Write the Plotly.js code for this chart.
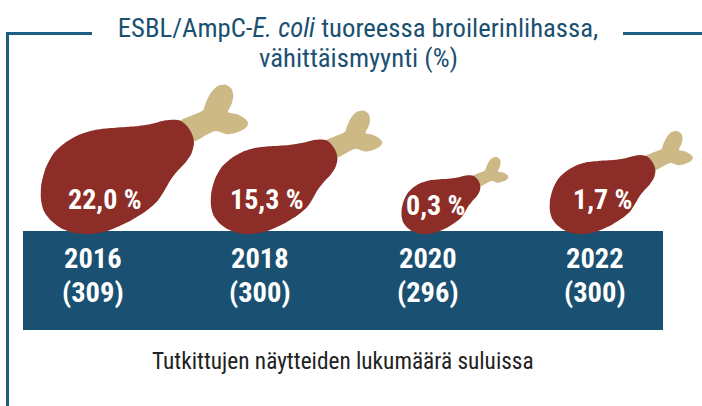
<!DOCTYPE html>
<html><head><meta charset="utf-8">
<script src="https://cdn.plot.ly/plotly-3.0.1.min.js"></script>
<style>html,body{margin:0;padding:0;background:#fff}</style></head>
<body><div id="chart" style="width:702px;height:406px"></div>
<script>
// Data
const years = [2016, 2018, 2020, 2022];
const samples = [309, 300, 296, 300];
const percents = ["22,0 %", "15,3 %", "0,3 %", "1,7 %"];

// Pictogram outline (one drumstick, pixel units around its bottom-centre)
const meatX = [91.7,98.3,103.3,105,102.7,96.7,88.3,81.7,75,68.3,56.7,43.3,28.3,15,0,-15,-28.3,-38.3,-45,-48,-47.7,-43.3,-35,-23.3,-10,6.7,26.7,46.7,63.3,76.7,85,91.7];
const meatY = [-113.3,-107.7,-99.3,-91,-81,-71.7,-62.7,-54.3,-42.7,-32.7,-22.7,-14.3,-7,-2,0,-1,-6,-13.7,-22.7,-34.3,-49.3,-66,-81,-91.7,-99.3,-104.3,-106.3,-107.7,-110.3,-113.7,-114.3,-113.3];
const boneX = [91.7,103.3,114,116.7,121.7,128.3,136.7,142.7,144.3,142.3,139,148.3,156,159.3,156.7,148.3,138.3,126.7,116.7,105,85,91.7];
const boneY = [-113.3,-118.7,-123.7,-131,-141,-147.7,-149.3,-145,-137.7,-129.3,-122,-119.7,-115.3,-111,-106,-101.7,-99.7,-103,-98.7,-92.7,-100,-113.3];
const glyphScale = [1, 0.827, 0.515, 0.69];
const glyphShift = [-3, -9, -1, -12];      // px offset from the year's centre
const labelShift = [13, 7, 8, 8];
const labelY = [199, 199, 205, 199];

const NAVY = "#1a5071", LINE = "#1f5f83", MEAT = "#8c2e27", BONE = "#ccb985";
const FONT = "'Roboto Condensed','Liberation Sans Narrow',Roboto,sans-serif";
const PXPERYEAR = 83.83, X0 = 92;
const xToYear = p => 2016 + (p - X0) / PXPERYEAR;
const BASE = 234;

const traces = [];
years.forEach((yr, i) => {
  const s = glyphScale[i], d = glyphShift[i] / PXPERYEAR;
  const base = {mode: "lines", fill: "toself", hoverinfo: "skip", showlegend: false,
                line: {shape: "spline", smoothing: 0.7, width: 0}};
  traces.push(Object.assign({}, base, {
    x: boneX.map(v => yr + d + v * s / PXPERYEAR), y: boneY.map(v => BASE + v * s),
    fillcolor: BONE, line: Object.assign({}, base.line, {color: BONE})}));
  traces.push(Object.assign({}, base, {
    x: meatX.map(v => yr + d + v * s / PXPERYEAR), y: meatY.map(v => BASE + v * s),
    fillcolor: MEAT, line: Object.assign({}, base.line, {color: MEAT})}));
});

const annotations = [];
const yearNudge = 0.5 / PXPERYEAR;
years.forEach((yr, i) => {
  annotations.push({x: yr + labelShift[i] / PXPERYEAR, y: labelY[i], text: "<b>" + percents[i] + "</b>",
    showarrow: false, font: {family: FONT, size: 28, color: "#fff"}});
  annotations.push({x: yr + yearNudge, y: 258, text: "<b>" + yr + "</b>", showarrow: false,
    font: {family: FONT, size: 28.5, color: "#fff"}});
  annotations.push({x: yr + yearNudge, y: 292, text: "<b>(" + samples[i] + ")</b>", showarrow: false,
    font: {family: FONT, size: 28.5, color: "#fff"}});
});
annotations.push({x: xToYear(343), y: 361, text: "Tutkittujen näytteiden lukumäärä suluissa", showarrow: false,
  font: {family: FONT, size: 23.3, color: "#222"}});
annotations.push({x: xToYear(358), y: 58, text: "vähittäismyynti (%)", showarrow: false,
  font: {family: FONT, size: 26.7, color: NAVY}});

const layout = {
  width: 702, height: 406, margin: {l: 0, r: 0, t: 0, b: 0},
  paper_bgcolor: "#fff", plot_bgcolor: "#fff", showlegend: false,
  title: {text: "ESBL/AmpC-<i>E. coli</i> tuoreessa broilerinlihassa,",
    x: 358 / 702, xanchor: "center", y: 1 - 28 / 406, yanchor: "middle",
    font: {family: FONT, size: 26.7, color: NAVY}},
  xaxis: {visible: false, range: [xToYear(0), xToYear(702)], fixedrange: true},
  yaxis: {visible: false, range: [406, 0], fixedrange: true},
  annotations,
  shapes: [
    {type: "rect", layer: "below", x0: xToYear(23), x1: xToYear(663), y0: 231, y1: 330, fillcolor: NAVY, line: {width: 0}},
    {type: "line", x0: xToYear(7.5), x1: xToYear(7.5), y0: 33, y1: 406, line: {color: LINE, width: 3}},
    {type: "line", x0: xToYear(6), x1: xToYear(92), y0: 33.5, y1: 33.5, line: {color: LINE, width: 3}},
    {type: "line", x0: xToYear(623), x1: xToYear(702), y0: 33.5, y1: 33.5, line: {color: LINE, width: 3}}
  ]
};
Plotly.newPlot("chart", traces, layout, {displayModeBar: false, staticPlot: true});
</script></body></html>
